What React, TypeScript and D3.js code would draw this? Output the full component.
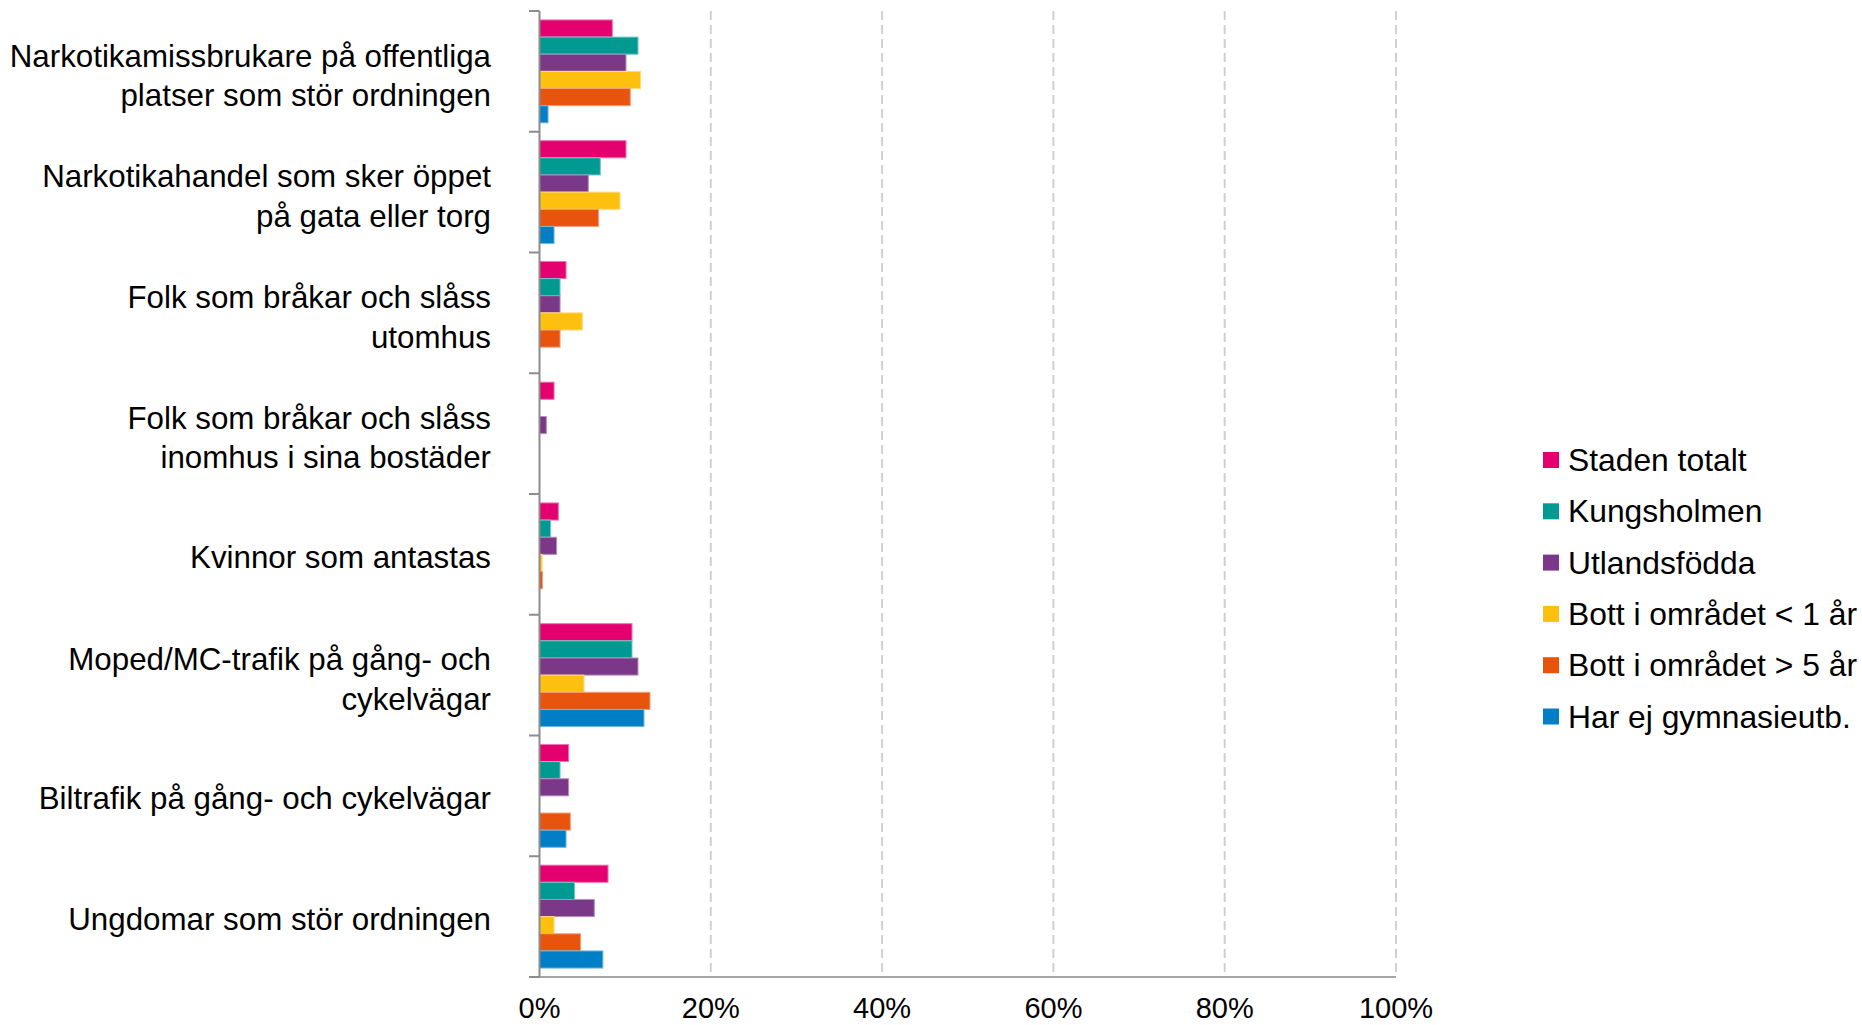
import React from "react";
import * as d3 from "d3";

const categories: string[][] = [
  ["Narkotikamissbrukare på offentliga", "platser som stör ordningen"],
  ["Narkotikahandel som sker öppet", "på gata eller torg"],
  ["Folk som bråkar och slåss", "utomhus"],
  ["Folk som bråkar och slåss", "inomhus i sina bostäder"],
  ["Kvinnor som antastas"],
  ["Moped/MC-trafik på gång- och", "cykelvägar"],
  ["Biltrafik på gång- och cykelvägar"],
  ["Ungdomar som stör ordningen"],
];

const seriesNames = [
  "Staden totalt",
  "Kungsholmen",
  "Utlandsfödda",
  "Bott i området < 1 år",
  "Bott i området > 5 år",
  "Har ej gymnasieutb.",
];

const seriesColors = ["#E4006F", "#009A93", "#7B3889", "#FDC00F", "#E8530E", "#007FC7"];

// values in percent, per series, in category order (null = no bar)
const stadenTotalt: (number | null)[] = [8.5, 10.1, 3.1, 1.7, 2.2, 10.8, 3.4, 8.0];
const kungsholmen: (number | null)[] = [11.5, 7.1, 2.4, 0, 1.3, 10.8, 2.4, 4.1];
const utlandsfodda: (number | null)[] = [10.1, 5.7, 2.4, 0.8, 2.0, 11.5, 3.4, 6.4];
const bottUnder1: (number | null)[] = [11.8, 9.4, 5.0, null, 0.3, 5.2, null, 1.7];
const bottOver5: (number | null)[] = [10.6, 6.9, 2.4, 0, 0.35, 12.9, 3.6, 4.8];
const harEjGymn: (number | null)[] = [1.0, 1.7, null, null, null, 12.2, 3.1, 7.4];

const seriesValues = [stadenTotalt, kungsholmen, utlandsfodda, bottUnder1, bottOver5, harEjGymn];

const xTicks = [0, 20, 40, 60, 80, 100];

const W = 1862;
const H = 1025;
const FONT = "'Liberation Sans', Arial, sans-serif";

export default function App() {
  const plotLeft = 539.5;
  const plotRight = 1396;
  const plotTop = 11;
  const plotBottom = 977;

  const x = d3.scaleLinear().domain([0, 100]).range([plotLeft, plotRight]);
  const catKeys = categories.map((_, i) => String(i));
  const y = d3.scaleBand().domain(catKeys).range([plotTop, plotBottom]).paddingInner(0).paddingOuter(0);
  const inner = d3
    .scaleBand()
    .domain(seriesNames)
    .range([0, y.bandwidth()])
    .paddingInner(0)
    .paddingOuter(0.52);

  const boundaries = d3.range(categories.length + 1).map((i) => plotTop + i * y.step());

  return (
    <svg
      width={W}
      height={H}
      style={{ position: "absolute", left: 0, top: 0, background: "#fff" }}
      fontFamily={FONT}
    >
      {/* gridlines */}
      {xTicks
        .filter((t) => t > 0)
        .map((t) => (
          <line
            key={"g" + t}
            x1={x(t)}
            x2={x(t)}
            y1={plotTop}
            y2={plotBottom}
            stroke="#D0D0D0"
            strokeWidth={2}
            strokeDasharray="9,5"
          />
        ))}

      {/* bars */}
      {seriesNames.map((s, si) =>
        seriesValues[si].map((v, ci) => {
          if (v === null) return null;
          const yy = (y(String(ci)) as number) + (inner(s) as number);
          const col = seriesColors[si];
          const light = d3.interpolateRgb(col, "#ffffff")(0.45);
          return (
            <rect
              key={s + ci}
              x={x(0)}
              y={yy}
              width={Math.max(0, x(v) - x(0))}
              height={inner.bandwidth()}
              fill={col}
              stroke={light}
              strokeWidth={1}
            />
          );
        })
      )}

      {/* bottom axis line */}
      <line x1={529} x2={plotRight} y1={plotBottom} y2={plotBottom} stroke="#A6A6A6" strokeWidth={2} />
      {/* vertical axis */}
      <line x1={plotLeft} x2={plotLeft} y1={plotTop} y2={plotBottom} stroke="#8C8C8C" strokeWidth={2} />
      {boundaries.map((b, i) => (
        <line key={"t" + i} x1={529} x2={plotLeft} y1={b} y2={b} stroke="#8C8C8C" strokeWidth={2} />
      ))}

      {/* x tick labels */}
      {xTicks.map((t) => (
        <text key={"xl" + t} x={x(t)} y={1018} textAnchor="middle" fontSize={29} fill="#000">
          {t + "%"}
        </text>
      ))}

      {/* category labels */}
      {categories.map((lines, ci) => {
        const multi = lines.length > 1;
        const c = (y(String(ci)) as number) + y.bandwidth() / 2 + (multi ? 4.5 : 3);
        const lh = 39.5;
        const start = c - ((lines.length - 1) * lh) / 2;
        return (
          <text key={"c" + ci} x={491} textAnchor="end" fontSize={31.3} fill="#000">
            {lines.map((ln, li) => (
              <tspan key={li} x={491} y={start + li * lh} dominantBaseline="central">
                {ln}
              </tspan>
            ))}
          </text>
        );
      })}

      {/* legend */}
      {seriesNames.map((s, si) => {
        const cy = 460 + si * 51.3;
        return (
          <g key={"l" + s}>
            <rect x={1543} y={cy - 8} width={16} height={16} fill={seriesColors[si]} />
            <text x={1568} y={cy} dominantBaseline="central" fontSize={31.8} fill="#000">
              {s}
            </text>
          </g>
        );
      })}
    </svg>
  );
}
